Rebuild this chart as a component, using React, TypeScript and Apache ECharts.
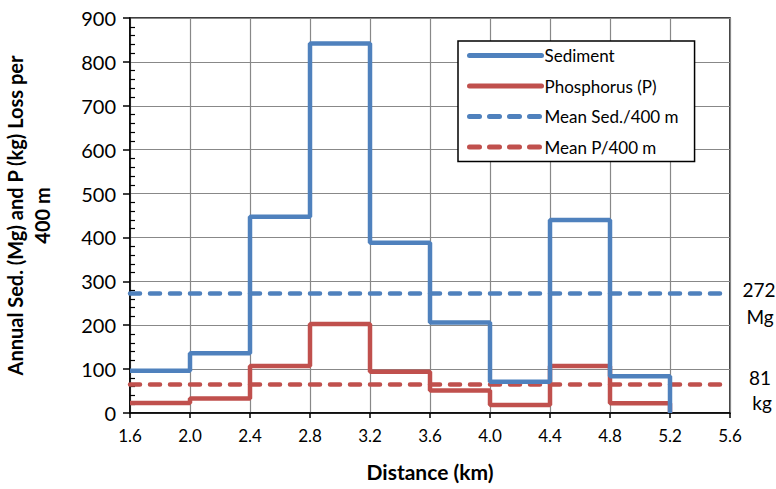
import React, { useEffect, useRef } from "react";
import * as echarts from "echarts";

const xEdges = [1.6, 2.0, 2.4, 2.8, 3.2, 3.6, 4.0, 4.4, 4.8, 5.2];
const sediment = [96, 136, 447, 842, 388, 206, 71, 440, 84, 0];
const phosphorus = [23, 33, 107, 203, 94, 51, 18, 107, 22, 0];
const meanSed = 272;
const meanP = 65;
const meanSedLabel = ["272", "Mg"];
const meanPLabel = ["81", "kg"];
const xRange = [1.6, 5.6];

const BLUE = "#4F81BD";
const RED = "#C0504D";
const FONT = "Lato, 'Open Sans', sans-serif";

export default function App() {
  const ref = useRef<HTMLDivElement>(null);
  useEffect(() => {
    const chart = echarts.init(ref.current!, null, { renderer: "svg" });
    const stepData = (vals: number[]) => {
      const pts: number[][] = xEdges.map((x, i) => [x, vals[i]]);
      const n = vals.length;
      pts[n - 1] = [xEdges[n - 1], vals[n - 2]];
      pts.push([xEdges[n - 1], vals[n - 1]]);
      return pts;
    };
    const sideText = (x: number, y: number, t: string) => ({
      type: "text",
      x,
      y,
      style: { text: t, fontFamily: FONT, fontSize: 19, fill: "#000", align: "center", verticalAlign: "middle" },
    });
    chart.setOption({
      animation: false,
      backgroundColor: "#fff",
      grid: {
        left: 130,
        right: 46,
        top: 18,
        bottom: 76,
        show: true,
        borderColor: "#000",
        borderWidth: 1.5,
        containLabel: false,
        outerBoundsMode: "none",
      },
      legend: {
        orient: "vertical",
        left: 458,
        top: 41,
        width: 230,
        padding: [6, 16, 6, 9],
        itemWidth: 72,
        itemHeight: 14,
        itemGap: 13.5,
        backgroundColor: "#fff",
        borderColor: "#000",
        borderWidth: 1.5,
        borderRadius: 0,
        itemStyle: { opacity: 0 },
        lineStyle: { width: 5, cap: "round" },
        textStyle: { fontFamily: FONT, fontSize: 17, color: "#000", padding: [0, 0, 0, -2] },
        data: ["Sediment", "Phosphorus (P)", "Mean Sed./400 m", "Mean P/400 m"],
      },
      xAxis: {
        type: "value",
        min: xRange[0],
        max: xRange[1],
        interval: 0.4,
        name: "Distance (km)",
        nameLocation: "middle",
        nameGap: 48,
        nameTextStyle: { fontFamily: FONT, fontSize: 21, fontWeight: "bold", color: "#000" },
        axisLine: { show: true, lineStyle: { color: "#000", width: 1.5 } },
        axisTick: { show: true, length: 5, lineStyle: { color: "#000", width: 1.5 } },
        axisLabel: {
          fontFamily: FONT,
          fontSize: 17,
          color: "#000",
          margin: 14,
          formatter: (v: number) => v.toFixed(1),
        },
        splitLine: { show: true, lineStyle: { color: "#888", width: 1.2 } },
      },
      yAxis: [
        {
          type: "value",
          min: 0,
          max: 900,
          interval: 100,
          name: "Annual Sed. (Mg) and P (kg) Loss per\n400 m",
          nameLocation: "middle",
          nameGap: 75,
          nameTextStyle: {
            fontFamily: FONT,
            fontSize: 20,
            fontWeight: "bold",
            color: "#000",
            lineHeight: 27,
            align: "center",
          },
          axisLine: { show: true, lineStyle: { color: "#000", width: 1.5 } },
          axisTick: { show: true, length: 7, lineStyle: { color: "#000", width: 1.5 } },
          axisLabel: { fontFamily: FONT, fontSize: 20, color: "#000", margin: 14 },
          splitLine: { show: true, lineStyle: { color: "#888", width: 1.2 } },
        },
        {
          type: "value",
          min: 0,
          max: 900,
          interval: 100,
          position: "left",
          axisLine: { show: false },
          axisTick: { show: true, inside: true, length: 0 },
          axisLabel: { show: false },
          splitLine: { show: false },
          minorTick: { show: true, splitNumber: 5, length: 5, lineStyle: { color: "#000", width: 1.2 } },
        },
      ],
      series: [
        {
          name: "Sediment",
          type: "line",
          step: "end",
          symbol: "none",
          data: stepData(sediment),
          lineStyle: { color: BLUE, width: 4.5 },
          itemStyle: { color: BLUE },
          z: 4,
        },
        {
          name: "Phosphorus (P)",
          type: "line",
          step: "end",
          symbol: "none",
          data: stepData(phosphorus),
          lineStyle: { color: RED, width: 4.5 },
          itemStyle: { color: RED },
          z: 3,
        },
        {
          name: "Mean Sed./400 m",
          type: "line",
          symbol: "none",
          data: [[xRange[0], meanSed], [xRange[1], meanSed]],
          lineStyle: { color: BLUE, width: 4.5, type: [10, 10], cap: "round" },
          itemStyle: { color: BLUE },
          z: 2,
        },
        {
          name: "Mean P/400 m",
          type: "line",
          symbol: "none",
          data: [[xRange[0], meanP], [xRange[1], meanP]],
          lineStyle: { color: RED, width: 4.5, type: [10, 10], cap: "round" },
          itemStyle: { color: RED },
          z: 2,
        },
      ],
      graphic: [
        sideText(759, 289, meanSedLabel[0]),
        sideText(760, 316, meanSedLabel[1]),
        sideText(760, 377, meanPLabel[0]),
        sideText(762, 402, meanPLabel[1]),
      ],
    });
    return () => chart.dispose();
  }, []);
  return <div ref={ref} style={{ width: 776, height: 489, position: "absolute", left: 0, top: 0 }} />;
}
